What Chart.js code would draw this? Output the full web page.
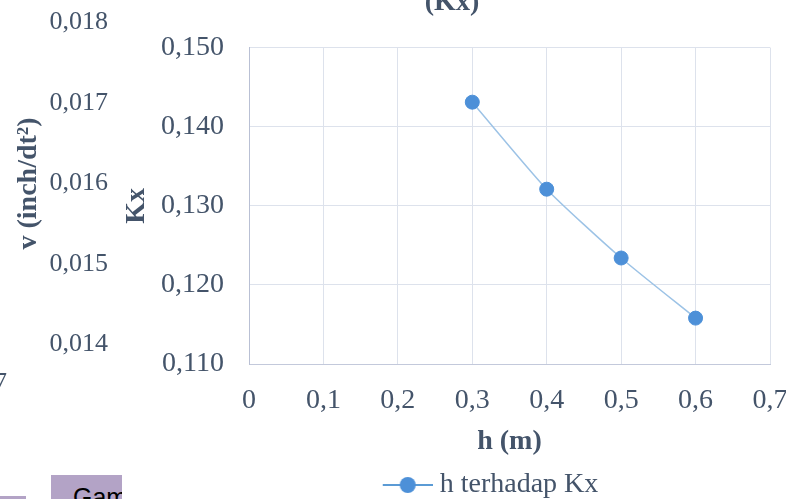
<!DOCTYPE html>
<html>
<head>
<meta charset="utf-8">
<script src="https://cdn.jsdelivr.net/npm/chart.js@4/dist/chart.umd.min.js"></script>
<style>
    html, body {
        margin: 0;
        padding: 0;
        width: 786px;
        height: 499px;
        overflow: hidden;
        background: #fff;
    }
    body {
        position: relative;
    }
    canvas {
        position: absolute;
    }
    #backChart {
        left: 0;
        top: 0;
    }
    #mainChart {
        left: 0;
        top: -30px;
    }
    #cutTick {
        position: absolute;
        left: -40px;
        top: 369px;
        width: 47px;
        text-align: right;
        font: 26px/26px "Liberation Serif";
        color: #44546a;
        white-space: nowrap;
    }
    .tab {
        position: absolute;
        background: #b3a3c6;
        overflow: hidden;
        white-space: nowrap;
        font: 25px/25px "Liberation Sans";
        color: #000;
    }
</style>
</head>
<body>
<canvas id="backChart" width="300" height="499"></canvas>
<canvas id="mainChart" width="808" height="539"></canvas>
<div id="cutTick">0,7</div>
<div class="tab" style="left:0;top:496px;width:26px;height:10px;"></div>
<div class="tab" style="left:51px;top:475px;width:71px;height:30px;padding-top:10px;padding-left:22px;box-sizing:border-box;">Gambar</div>
<script>
    // h terhadap Kx
    const hValues = [0.3, 0.4, 0.5, 0.6];
    const kxValues = [0.1431, 0.1321, 0.1234, 0.1158];
    const seriesLabel = 'h terhadap Kx';

    const xTicks = {min: 0, max: 0.7, step: 0.1};
    const yTicks = {min: 0.110, max: 0.150, step: 0.01};
    // axis of the chart hidden behind
    const vTicks = {min: 0.014, max: 0.018, step: 0.001};

    const textColor = '#44546a';
    const serif = 'Liberation Serif';

    function comma(value, digits) {
        if (Math.abs(value) < 1e-9) return '0';
        return value.toFixed(digits).replace('.', ',');
    }

    function legendMarker() {
        let c = document.createElement('canvas');
        c.width = 134;
        c.height = 20;
        let ctx = c.getContext('2d');
        ctx.strokeStyle = '#5b9bd5';
        ctx.lineWidth = 2;
        ctx.beginPath();
        ctx.moveTo(84, 10);
        ctx.lineTo(134, 10);
        ctx.stroke();
        ctx.fillStyle = '#4d90d8';
        ctx.beginPath();
        ctx.arc(109, 10, 8, 0, Math.PI * 2);
        ctx.fill();
        return c;
    }

    new Chart(document.getElementById('backChart'), {
        type: 'line',
        data: {datasets: []},
        options: {
            responsive: false,
            animation: false,
            layout: {padding: {left: 12, top: 22.5, bottom: 154.5, right: 0}},
            plugins: {legend: {display: false}, tooltip: {enabled: false}},
            scales: {
                x: {type: 'linear', display: false},
                y: {
                    min: vTicks.min,
                    max: vTicks.max,
                    afterFit: scale => { scale.width = 96; },
                    grid: {display: false, drawTicks: false},
                    border: {display: false},
                    ticks: {
                        stepSize: vTicks.step,
                        padding: 0,
                        color: textColor,
                        font: {family: serif, size: 26},
                        callback: v => comma(v, 3)
                    },
                    title: {
                        display: true,
                        text: 'v (inch/dt²)',
                        color: textColor,
                        padding: 0,
                        font: {family: serif, size: 28, weight: 'bold'}
                    }
                }
            }
        }
    });

    new Chart(document.getElementById('mainChart'), {
        type: 'line',
        data: {
            datasets: [{
                label: seriesLabel,
                data: hValues.map((h, i) => ({x: h, y: kxValues[i]})),
                borderColor: '#9dc3e6',
                borderWidth: 1.5,
                tension: 0.2,
                pointRadius: 7,
                pointBorderWidth: 1,
                pointBackgroundColor: '#4d90d8',
                pointBorderColor: '#4d90d8'
            }]
        },
        options: {
            responsive: false,
            animation: false,
            layout: {padding: {left: 134, right: 38, top: 0, bottom: 0}},
            plugins: {
                tooltip: {enabled: false},
                title: {
                    display: true,
                    text: '(Kx)',
                    color: textColor,
                    padding: {top: 16, bottom: 28},
                    font: {family: serif, size: 28, weight: 'bold'}
                },
                legend: {
                    position: 'bottom',
                    labels: {
                        usePointStyle: true,
                        pointStyle: legendMarker(),
                        pointStyleWidth: 120,
                        padding: 7,
                        color: textColor,
                        font: {family: serif, size: 28}
                    }
                }
            },
            scales: {
                x: {
                    type: 'linear',
                    min: xTicks.min,
                    max: xTicks.max,
                    afterFit: scale => { scale.height = 100; },
                    grid: {color: '#dde2ec', drawTicks: false},
                    border: {color: '#c3c9db'},
                    ticks: {
                        stepSize: xTicks.step,
                        padding: 20,
                        maxRotation: 0,
                        color: textColor,
                        font: {family: serif, size: 28},
                        callback: v => comma(v, 1)
                    },
                    title: {
                        display: true,
                        text: 'h (m)',
                        color: textColor,
                        padding: {top: 0, bottom: 5},
                        font: {family: serif, size: 28, weight: 'bold'}
                    }
                },
                y: {
                    min: yTicks.min,
                    max: yTicks.max,
                    afterFit: scale => { scale.width = 115; },
                    grid: {color: '#dde2ec', drawTicks: false},
                    border: {color: '#b9c0d4'},
                    ticks: {
                        stepSize: yTicks.step,
                        padding: 25,
                        color: textColor,
                        font: {family: serif, size: 28},
                        callback: v => comma(v, 3)
                    },
                    title: {
                        display: true,
                        text: 'Kx',
                        color: textColor,
                        padding: {top: -14, bottom: 0},
                        font: {family: serif, size: 28, weight: 'bold'}
                    }
                }
            }
        }
    });
</script>
</body>
</html>
